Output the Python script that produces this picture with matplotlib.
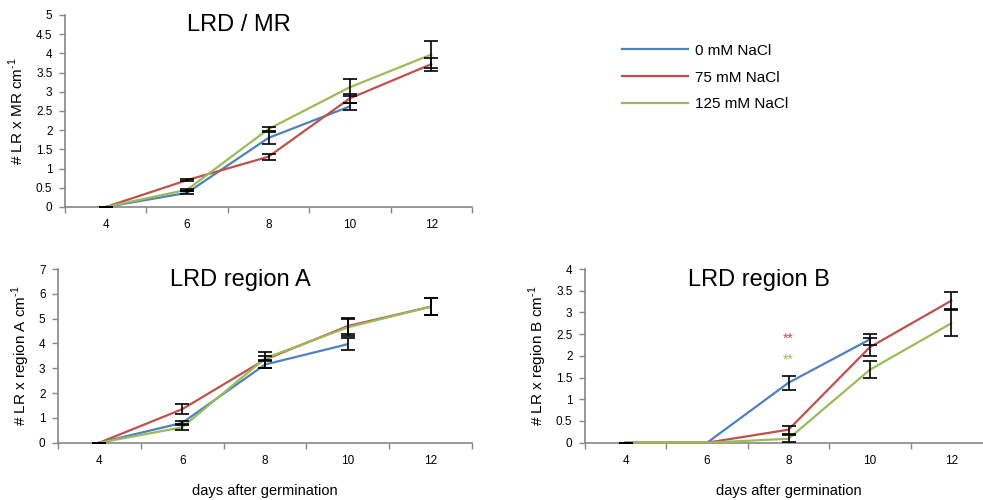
import matplotlib
matplotlib.use('Agg')
import matplotlib.pyplot as plt
import numpy as np

plt.rcParams['font.family'] = ['Liberation Sans', 'DejaVu Sans']
plt.rcParams['mathtext.fontset'] = 'custom'
plt.rcParams['mathtext.rm'] = 'Liberation Sans'

nan = np.nan
days = [4, 6, 8, 10, 12]
series_names = ['0 mM NaCl', '75 mM NaCl', '125 mM NaCl']
colors = ['#4F81BD', '#C0504D', '#9BBB59']

# LRD / MR
mr_0 = [0, 0.37, 1.80, 2.62, nan]
mr_0_err = [0, 0.04, 0.15, 0.10, nan]
mr_75 = [0, 0.70, 1.31, 2.83, 3.72]
mr_75_err = [0, 0.02, 0.08, 0.12, 0.17]
mr_125 = [0, 0.45, 2.03, 3.12, 3.97]
mr_125_err = [0, 0.03, 0.06, 0.22, 0.36]

# LRD region A
ra_0 = [0, 0.80, 3.15, 3.97, nan]
ra_0_err = [0, 0.09, 0.15, 0.25, nan]
ra_75 = [0, 1.35, 3.35, 4.70, 5.48]
ra_75_err = [0, 0.21, 0.32, 0.32, 0.35]
ra_125 = [0, 0.62, 3.40, 4.65, 5.48]
ra_125_err = [0, 0.12, 0.08, 0.35, 0.35]

# LRD region B
rb_0 = [0, 0, 1.38, 2.38, nan]
rb_0_err = [0, nan, 0.16, 0.12, nan]
rb_75 = [0, 0, 0.30, 2.20, 3.27]
rb_75_err = [0, nan, 0.09, 0.20, 0.20]
rb_125 = [0, 0, 0.09, 1.68, 2.75]
rb_125_err = [0, nan, 0.08, 0.20, 0.30]


def style_axis(ax, ymax, ystep):
    x = np.arange(len(days))
    ax.set_xlim(-0.5, len(days) - 0.5)
    ax.set_ylim(0, ymax)
    ax.set_xticks(x)
    ax.set_xticklabels([str(d) for d in days], fontsize=8.5)
    ax.set_xticks(np.arange(len(days) + 1) - 0.5, minor=True)
    ax.tick_params(axis='x', which='major', length=0, pad=9)
    ax.tick_params(axis='x', which='minor', length=4, color='#868686', width=1)
    yt = np.arange(0, ymax + 0.01, ystep)
    ax.set_yticks(yt)
    ax.set_yticklabels(['%g' % v for v in yt], fontsize=8.5)
    ax.tick_params(axis='y', length=4, color='#868686', width=1, pad=5)
    for side in ['top', 'right']:
        ax.spines[side].set_visible(False)
    for side in ['left', 'bottom']:
        ax.spines[side].set_color('#868686')
        ax.spines[side].set_linewidth(1.2)


def plot_series(ax, values, errors):
    x = np.arange(len(days))
    lines = []
    for vals, errs, c in zip(values, errors, colors):
        vals = np.array(vals, dtype=float)
        errs = np.array(errs, dtype=float)
        line, = ax.plot(x, vals, color=c, lw=1.6, zorder=3)
        lines.append(line)
        ok = ~np.isnan(errs) & ~np.isnan(vals)
        ax.errorbar(x[ok], vals[ok], yerr=errs[ok], fmt='none', ecolor='black',
                    elinewidth=1.2, capsize=5, capthick=1.2, zorder=4)
    return lines


def unit_label(text):
    return text + r' cm$^{\mathrm{\text{-}1}}$'


fig = plt.figure(figsize=(9.83, 5.0), dpi=100)

ax1 = fig.add_axes([65 / 983, 1 - 207 / 500, 407 / 983, 192 / 500])
handles = plot_series(ax1, [mr_0, mr_75, mr_125], [mr_0_err, mr_75_err, mr_125_err])
style_axis(ax1, 5, 0.5)
ax1.set_ylabel(unit_label('# LR x MR'), fontsize=11)
ax1.yaxis.set_label_coords(-0.096, 0.5)

ax2 = fig.add_axes([58 / 983, 1 - 442.7 / 500, 414 / 983, 173.7 / 500])
plot_series(ax2, [ra_0, ra_75, ra_125], [ra_0_err, ra_75_err, ra_125_err])
style_axis(ax2, 7, 1)
ax2.set_ylabel(unit_label('# LR x region A'), fontsize=11)
ax2.yaxis.set_label_coords(-0.063, 0.5)
ax2.set_xlabel('days after germination', fontsize=10.5, labelpad=12)

ax3 = fig.add_axes([585 / 983, 1 - 442.7 / 500, 407 / 983, 173.7 / 500])
plot_series(ax3, [rb_0, rb_75, rb_125], [rb_0_err, rb_75_err, rb_125_err])
style_axis(ax3, 4, 0.5)
ax3.set_ylabel(unit_label('# LR x region B'), fontsize=11)
ax3.yaxis.set_label_coords(-0.088, 0.5)
ax3.set_xlabel('days after germination', fontsize=10.5, labelpad=12)

# significance marks at day 8
ax3.text(2, 2.4, '**', color=colors[1], fontsize=10, ha='center', va='center')
ax3.text(2, 1.9, '**', color=colors[2], fontsize=10, ha='center', va='center')

fig.text(239 / 983, 1 - 25 / 500, 'LRD / MR', fontsize=17, ha='center', va='center')
fig.text(240 / 983, 1 - 280 / 500, 'LRD region A', fontsize=17, ha='center', va='center')
fig.text(759 / 983, 1 - 280 / 500, 'LRD region B', fontsize=17, ha='center', va='center')

fig.legend(handles, series_names, loc='center left',
           bbox_to_anchor=(622 / 983, 1 - 77.5 / 500), frameon=False,
           fontsize=11, handlelength=4.3, handletextpad=0.5, labelspacing=0.85,
           borderpad=0, borderaxespad=0)

fig.savefig('out.png', dpi=100)
